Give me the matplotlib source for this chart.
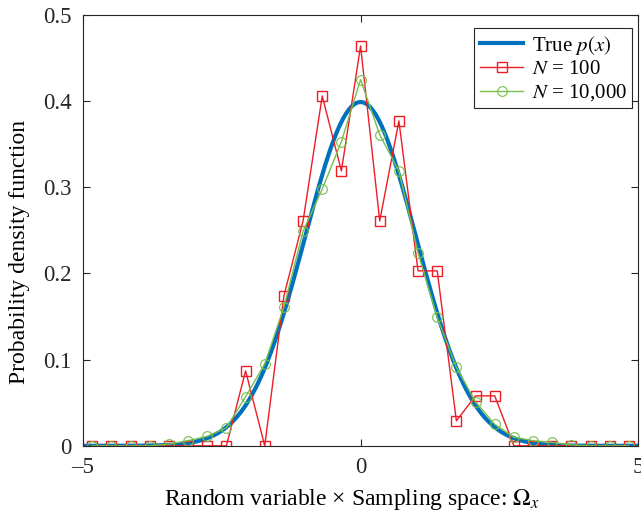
import numpy as np
import matplotlib
matplotlib.use("Agg")
import matplotlib.pyplot as plt

plt.rcParams["font.family"] = ["Liberation Serif", "DejaVu Serif"]
plt.rcParams["mathtext.fontset"] = "stix"

# histogram bin centres: 29 bins spanning [-5, 5]
n_bins = 29
edges = np.linspace(-5, 5, n_bins + 1)
centres = 0.5 * (edges[:-1] + edges[1:])

# density estimates
pdf_n100 = [0, 0, 0, 0, 0, 0, 0, 0, 0.087, 0, 0.174, 0.261, 0.406, 0.319,
            0.464, 0.261, 0.377, 0.203, 0.203, 0.029, 0.058, 0.058,
            0, 0, 0, 0, 0, 0, 0]
pdf_n10000 = [0, 0, 0, 0, 0.002, 0.006, 0.011, 0.021, 0.057, 0.095, 0.161,
              0.249, 0.298, 0.353, 0.425, 0.361, 0.319, 0.224, 0.149, 0.091,
              0.051, 0.025, 0.010, 0.006, 0.004, 0.001, 0, 0, 0]

x = np.linspace(-5, 5, 400)
p_true = np.exp(-x**2 / 2) / np.sqrt(2 * np.pi)

fig = plt.figure(figsize=(6.41, 5.16), dpi=100)
ax = fig.add_axes([0.129, 0.136, 0.867, 0.835])

ax.plot(x, p_true, color="#0072BD", lw=3, label="True $p(x)$")
ax.plot(centres, pdf_n100, color="#EE1C25", lw=1, marker="s", ms=6.5,
        mfc="none", mew=1, label="$N$ = 100")
ax.plot(centres, pdf_n10000, color="#77BF4A", lw=1, marker="o", ms=7,
        mfc="none", mew=0.8, label="$N$ = 10,000")

ax.set_xlim(-5, 5)
ax.set_ylim(0, 0.5)
ax.set_xticks([-5, 0, 5])
ax.set_xticklabels(["\u20135", "0", "5"])
ax.set_yticks([0, 0.1, 0.2, 0.3, 0.4, 0.5])
ax.set_yticklabels(["0", "0.1", "0.2", "0.3", "0.4", "0.5"])
ax.tick_params(direction="in", top=True, right=True, labelsize=16.5,
               length=5, width=0.8, colors="#262626")
ax.tick_params(axis="x", pad=8)
ax.tick_params(axis="y", pad=8)
for s in ax.spines.values():
    s.set_color("#262626")
    s.set_linewidth(0.8)

ax.set_xlabel("Random variable \u00d7 Sampling space: $\\Omega_x$", fontsize=17,
              va="top")
ax.xaxis.set_label_coords(0.485, -0.095)
ax.set_ylabel("Probability density function", fontsize=17)
ax.yaxis.set_label_coords(-0.094, 0.45)

leg = ax.legend(loc="upper right", fontsize=15, fancybox=False,
                edgecolor="#262626", framealpha=1, handlelength=2.1,
                borderpad=0.25, labelspacing=0.15, handletextpad=0.4,
                borderaxespad=0, bbox_to_anchor=(0.9885, 0.969))
leg.get_frame().set_linewidth(0.8)

fig.savefig("out.png", dpi=100)
